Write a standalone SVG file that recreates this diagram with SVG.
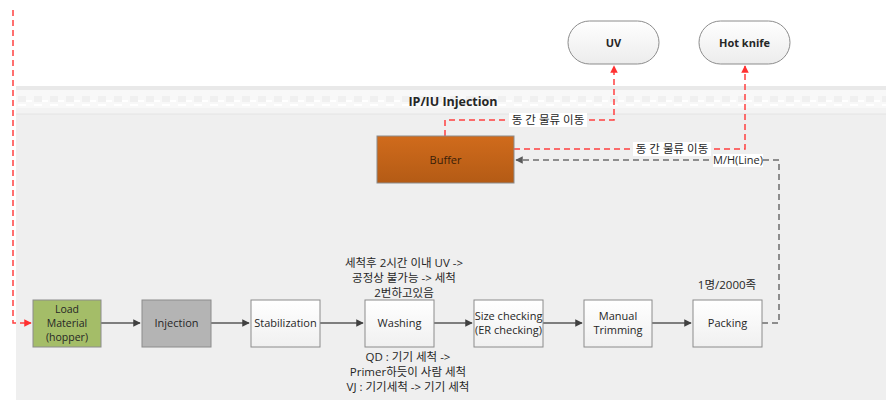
<svg xmlns="http://www.w3.org/2000/svg" width="886" height="400" viewBox="0 0 886 400">
<defs>
<style>
.t{font-family:"Open Sans","Noto Sans CJK KR",sans-serif;font-size:11px;fill:#262626;text-anchor:middle}
.k{font-family:"Open Sans","Noto Sans CJK KR",sans-serif;font-size:11.5px;fill:#262626;text-anchor:middle}
.b{font-weight:bold}
.box{stroke:#8c8c8c;stroke-width:1}
.flow{stroke:#595959;stroke-width:1.5;fill:none}
.red{stroke:#ff4040;stroke-width:1.5;fill:none;stroke-dasharray:6,4}
.gry{stroke:#6e6e6e;stroke-width:1.5;fill:none;stroke-dasharray:6,4}
.lbl{fill:#ffffff}
</style>
<linearGradient id="wg" x1="0" y1="0" x2="0" y2="1"><stop offset="0" stop-color="#ffffff"/><stop offset="1" stop-color="#f0f0f0"/></linearGradient>
<linearGradient id="og" x1="0" y1="0" x2="0" y2="1"><stop offset="0" stop-color="#d06b1c"/><stop offset="1" stop-color="#b45b15"/></linearGradient>
<linearGradient id="pg" x1="0" y1="0" x2="0" y2="1"><stop offset="0" stop-color="#ffffff"/><stop offset="1" stop-color="#ececec"/></linearGradient>
<pattern id="hp" x="16" y="90" width="16" height="24" patternUnits="userSpaceOnUse">
<rect x="0" y="0" width="16" height="24" fill="#f8f8f8"/>
<rect x="2" y="6" width="8" height="6" fill="#f0f0f0"/>
<rect x="2" y="14" width="8" height="2" fill="#ffffff"/>
<rect x="10" y="10" width="6" height="2" fill="#ffffff"/>
<rect x="0" y="18" width="16" height="6" fill="#f3f3f3"/>
</pattern>
<marker id="ad" viewBox="0 0 10 10" refX="9" refY="5" markerWidth="5" markerHeight="5" orient="auto"><path d="M0,0 L10,5 L0,10 z" fill="#404040"/></marker>
<marker id="ar" viewBox="0 0 10 10" refX="9" refY="5" markerWidth="5" markerHeight="5" orient="auto"><path d="M0,0 L10,5 L0,10 z" fill="#ff3030"/></marker>
<marker id="ag" viewBox="0 0 10 10" refX="9" refY="5" markerWidth="5" markerHeight="5" orient="auto"><path d="M0,0 L10,5 L0,10 z" fill="#5a5a5a"/></marker>
</defs>
<rect width="886" height="400" fill="#ffffff"/>
<g id="pool">
<rect x="16" y="86" width="870" height="314" fill="#efefef"/>
<rect x="16" y="86" width="870" height="4" fill="#e9e9e9"/>
<rect x="16" y="90" width="870" height="24" fill="url(#hp)"/>
<line x1="16" y1="114" x2="886" y2="114" stroke="#e4e4e4"/>
<text class="t b" x="453" y="106" style="font-size:12.5px">IP/IU Injection</text>
</g>
<g id="connectors">
<line class="flow" x1="101" y1="323" x2="140" y2="323" marker-end="url(#ad)"/>
<line class="flow" x1="211" y1="323" x2="249" y2="323" marker-end="url(#ad)"/>
<line class="flow" x1="320" y1="323" x2="363" y2="323" marker-end="url(#ad)"/>
<line class="flow" x1="434" y1="323" x2="472" y2="323" marker-end="url(#ad)"/>
<line class="flow" x1="543" y1="323" x2="582" y2="323" marker-end="url(#ad)"/>
<line class="flow" x1="652" y1="323" x2="691" y2="323" marker-end="url(#ad)"/>
<path class="red" d="M13,10 V323 H31" marker-end="url(#ar)"/>
<path class="red" d="M445,136 V120 H614 V66" marker-end="url(#ar)"/>
<path class="red" d="M514,149 H745 V66" marker-end="url(#ar)"/>
<path class="gry" d="M762,323 H779 V160 H516" marker-end="url(#ag)"/>
<rect class="lbl" x="509" y="113" width="78" height="14"/>
<text class="k" x="548" y="124">동 간 물류 이동</text>
<rect class="lbl" x="633" y="142" width="78" height="14"/>
<text class="k" x="672" y="153">동 간 물류 이동</text>
<rect class="lbl" x="713" y="154" width="50" height="13"/>
<text class="t" x="738" y="164">M/H(Line)</text>
</g>
<g id="uv">
<rect x="568" y="21" width="91" height="43" rx="21.5" fill="url(#pg)" stroke="#8c8c8c"/>
<text class="t b" x="613.5" y="47">UV</text>
</g>
<g id="hotknife">
<rect x="699" y="21" width="91" height="43" rx="21.5" fill="url(#pg)" stroke="#8c8c8c"/>
<text class="t b" x="744.5" y="47">Hot knife</text>
</g>
<g id="buffer">
<rect class="box" x="377" y="136" width="137" height="47" fill="url(#og)" stroke="#7f4a1a"/>
<text class="t" x="445.5" y="164" style="fill:#3a1e08">Buffer</text>
</g>
<g id="load">
<rect class="box" x="33" y="300" width="68" height="47" fill="#a4bd68"/>
<text class="t" x="67" y="313" style="font-size:10.5px">Load</text>
<text class="t" x="67" y="327" style="font-size:10.5px">Material</text>
<text class="t" x="67" y="341" style="font-size:10.5px">(hopper)</text>
</g>
<g id="injection">
<rect class="box" x="142" y="300" width="69" height="47" fill="#b4b4b4"/>
<text class="t" x="176.5" y="327">Injection</text>
</g>
<g id="stabilization">
<rect class="box" x="251" y="300" width="69" height="47" fill="url(#wg)"/>
<text class="t" x="285.5" y="327">Stabilization</text>
</g>
<g id="washing">
<rect class="box" x="365" y="300" width="69" height="47" fill="url(#wg)"/>
<text class="t" x="399.5" y="327">Washing</text>
<text class="k" x="404" y="267">세척후 2시간 이내 UV -&gt;</text>
<text class="k" x="404" y="282">공정상 불가능 -&gt; 세척</text>
<text class="k" x="404" y="297">2번하고있음</text>
<text class="k" x="408" y="361">QD : 기기 세척 -&gt;</text>
<text class="k" x="408" y="376">Primer하듯이 사람 세척</text>
<text class="k" x="408" y="391">VJ : 기기세척 -&gt; 기기 세척</text>
</g>
<g id="sizechecking">
<rect class="box" x="474" y="300" width="69" height="47" fill="url(#wg)"/>
<text class="t" x="508.5" y="320">Size checking</text>
<text class="t" x="508.5" y="334">(ER checking)</text>
</g>
<g id="trimming">
<rect class="box" x="584" y="300" width="68" height="47" fill="url(#wg)"/>
<text class="t" x="618" y="320">Manual</text>
<text class="t" x="618" y="334">Trimming</text>
</g>
<g id="packing">
<rect class="box" x="693" y="300" width="69" height="47" fill="url(#wg)"/>
<text class="t" x="727.5" y="327">Packing</text>
<text class="k" x="727" y="289">1명/2000족</text>
</g>
</svg>
